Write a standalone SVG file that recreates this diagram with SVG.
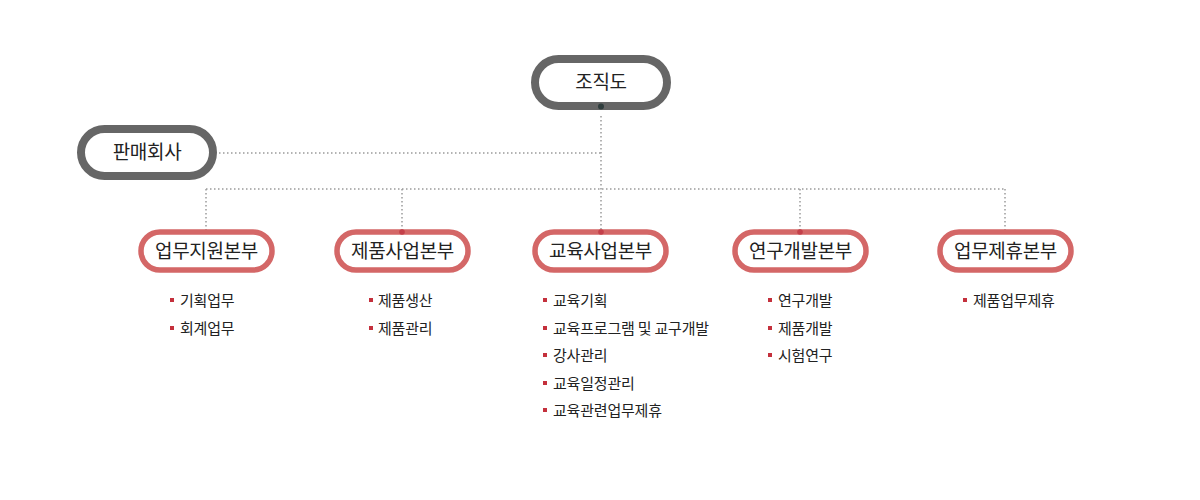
<svg xmlns="http://www.w3.org/2000/svg" width="1200" height="500" viewBox="0 0 1200 500">
<style>
text{font-family:"Noto Sans CJK KR","Noto Sans",sans-serif;fill:#222}
.gp{fill:#fff;stroke:#666;stroke-width:8}
.rp{fill:#fff;stroke:#d46767;stroke-width:5.5}
.t1{font-size:19px;text-anchor:middle;letter-spacing:-0.3px}
.it{font-size:15px;letter-spacing:-0.2px}
.dl{fill:none;stroke:#9a9a9a;stroke-width:1.5;stroke-dasharray:1.5 2.5}
.bl{fill:#c4303c}
.rd{fill:#c4404a}
</style>
<rect width="1200" height="500" fill="#fff"/>
<g id="connectors">
<path class="dl" d="M601 116V230"/>
<path class="dl" d="M219 153H601"/>
<path class="dl" d="M206 189H1005"/>
<path class="dl" d="M206 189V230M402 189V230M800 189V230M1005 189V230"/>
</g>
<g id="node-root">
<rect class="gp" x="535" y="59" width="132" height="47" rx="23.5"/>
<text class="t1" x="601" y="89">조직도</text>
<circle cx="601" cy="106.5" r="3" fill="#2f3d3d"/>
</g>
<g id="node-sales">
<rect class="gp" x="81" y="129" width="132" height="47" rx="23.5"/>
<text class="t1" x="147" y="159">판매회사</text>
</g>
<g id="node-support">
<rect class="rp" x="141" y="232" width="131" height="38" rx="19"/>
<text class="t1" x="206.5" y="258">업무지원본부</text>
<rect class="bl" x="170" y="298" width="4" height="4"/>
<text class="it" x="180" y="305.5">기획업무</text>
<rect class="bl" x="170" y="326" width="4" height="4"/>
<text class="it" x="180" y="333.5">회계업무</text>
</g>
<g id="node-product">
<rect class="rp" x="337" y="232" width="131" height="38" rx="19"/>
<text class="t1" x="402.5" y="258">제품사업본부</text>
<circle class="rd" cx="402" cy="232" r="2.8"/>
<rect class="bl" x="369" y="298" width="4" height="4"/>
<text class="it" x="378" y="305.5">제품생산</text>
<rect class="bl" x="369" y="326" width="4" height="4"/>
<text class="it" x="378" y="333.5">제품관리</text>
</g>
<g id="node-edu">
<rect class="rp" x="535" y="232" width="131" height="38" rx="19"/>
<text class="t1" x="600.5" y="258">교육사업본부</text>
<circle class="rd" cx="601" cy="232" r="2.8"/>
<rect class="bl" x="543" y="298" width="4" height="4"/>
<text class="it" x="553" y="305.5">교육기획</text>
<rect class="bl" x="543" y="326" width="4" height="4"/>
<text class="it" x="553" y="333.5">교육프로그램 및 교구개발</text>
<rect class="bl" x="543" y="353" width="4" height="4"/>
<text class="it" x="553" y="360.5">강사관리</text>
<rect class="bl" x="543" y="381" width="4" height="4"/>
<text class="it" x="553" y="388.5">교육일정관리</text>
<rect class="bl" x="543" y="408" width="4" height="4"/>
<text class="it" x="553" y="415.5">교육관련업무제휴</text>
</g>
<g id="node-rnd">
<rect class="rp" x="735" y="232" width="131" height="38" rx="19"/>
<text class="t1" x="800.5" y="258">연구개발본부</text>
<circle class="rd" cx="800" cy="232" r="2.8"/>
<rect class="bl" x="768" y="298" width="4" height="4"/>
<text class="it" x="778" y="305.5">연구개발</text>
<rect class="bl" x="768" y="326" width="4" height="4"/>
<text class="it" x="778" y="333.5">제품개발</text>
<rect class="bl" x="768" y="353" width="4" height="4"/>
<text class="it" x="778" y="360.5">시험연구</text>
</g>
<g id="node-alliance">
<rect class="rp" x="940" y="232" width="131" height="38" rx="19"/>
<text class="t1" x="1005.5" y="258">업무제휴본부</text>
<rect class="bl" x="963" y="298" width="4" height="4"/>
<text class="it" x="973" y="305.5">제품업무제휴</text>
</g>
</svg>
